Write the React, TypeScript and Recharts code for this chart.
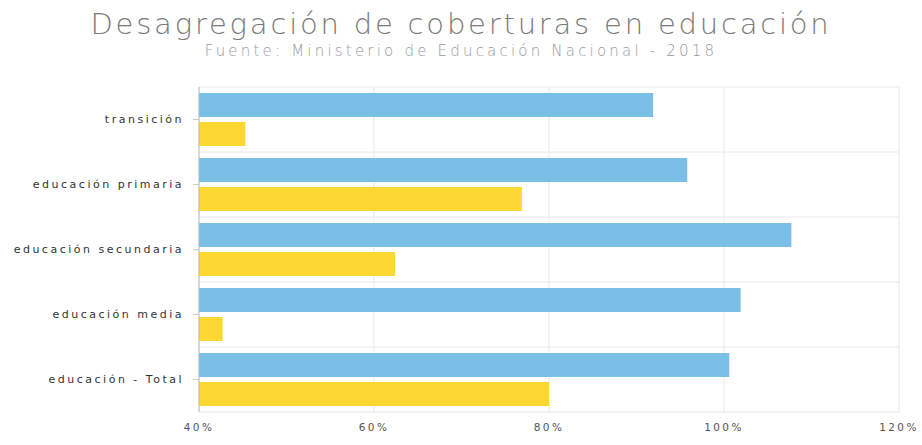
import { BarChart, Bar, XAxis, YAxis, CartesianGrid } from 'recharts'

const categories = ['transición', 'educación primaria', 'educación secundaria', 'educación media', 'educación - Total']
const coberturaBruta = [91.9, 95.8, 107.7, 101.9, 100.6]
const coberturaNeta = [45.3, 76.9, 62.4, 42.7, 80.0]
const xTicks = [40, 60, 80, 100, 120]

const data = categories.map((name, i) => ({ name, bruta: coberturaBruta[i], neta: coberturaNeta[i] }))

const W = 922
const H = 445
const font = '"DejaVu Sans", sans-serif'

// grid lines sit between the categories, not on them
function boundaryLines({ offset }: any) {
  const lines: number[] = []
  for (let i = 0; i <= categories.length; i++) lines.push(offset.top + (offset.height * i) / categories.length)
  return lines
}

export default function App() {
  return (
    <div style={{ position: 'absolute', left: 0, top: 0, width: W, height: H, background: '#fff' }}>
      <svg width={W} height={70} style={{ position: 'absolute', left: 0, top: 0 }}>
        <text x={461} y={34} textAnchor="middle" fontFamily={font} fontWeight={200} fontSize={29} letterSpacing={2.8} fill="#7a7a7a">
          Desagregación de coberturas en educación
        </text>
        <text x={461} y={56} textAnchor="middle" fontFamily={font} fontWeight={200} fontSize={15} letterSpacing={3.2} fill="#9a9a9a">
          Fuente: Ministerio de Educación Nacional - 2018
        </text>
      </svg>
      <BarChart
        width={W}
        height={H}
        data={data}
        layout="vertical"
        margin={{ top: 87, right: 23, bottom: 0, left: 9 }}
        barCategoryGap={6}
        barGap={5}
      >
        <CartesianGrid stroke="#e8e8e8" horizontalCoordinatesGenerator={boundaryLines} />
        <XAxis
          type="number"
          domain={[40, 120]}
          ticks={xTicks}
          allowDataOverflow
          tickFormatter={(v) => `${v}%`}
          axisLine={false}
          tickLine={false}
          tickMargin={6}
          height={33}
          tick={{ fontFamily: font, fontSize: 10.5, letterSpacing: 2.4, fill: '#555' }}
        />
        <YAxis
          type="category"
          dataKey="name"
          width={190}
          axisLine={{ stroke: '#bbb' }}
          tickLine={{ stroke: '#ccc' }}
          tickSize={6}
          tickMargin={9}
          tick={{ fontFamily: font, fontSize: 11, letterSpacing: 2.5, fill: '#333' }}
        />
        <Bar dataKey="bruta" fill="#7abfe6" isAnimationActive={false} />
        <Bar dataKey="neta" fill="#fcd631" isAnimationActive={false} />
      </BarChart>
    </div>
  )
}
